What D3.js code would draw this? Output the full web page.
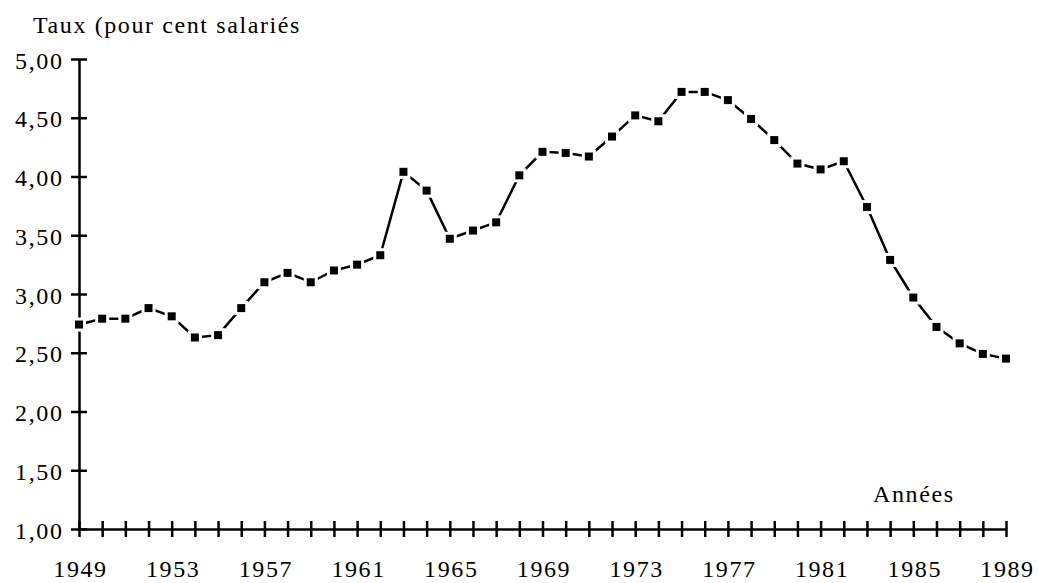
<!DOCTYPE html>
<html>
<head>
<meta charset="utf-8">
<script src="https://cdn.jsdelivr.net/npm/d3@7"></script>
<style>
  body { margin: 0; background: #fff; }
  svg text { font-family: "Liberation Serif", "Times New Roman", serif; font-size: 24px; letter-spacing: 1.6px; fill: #000; }
</style>
</head>
<body>
<svg id="chart" width="1039" height="583"></svg>
<script>
// Taux (pour cent salariés), 1949-1989

const YEARS = d3.range(1949, 1990);
const RATES = [
  2.74, 2.79, 2.79, 2.88, 2.81, 2.63, 2.65, 2.88, 3.10, 3.18,
  3.10, 3.20, 3.25, 3.33, 4.04, 3.88, 3.47, 3.54, 3.61, 4.01,
  4.21, 4.20, 4.17, 4.34, 4.52, 4.47, 4.72, 4.72, 4.65, 4.49,
  4.31, 4.11, 4.06, 4.13, 3.74, 3.29, 2.97, 2.72, 2.58, 2.49,
  2.45
];
const Y_TICKS = [1, 1.5, 2, 2.5, 3, 3.5, 4, 4.5, 5];
const X_LABEL_YEARS = [1949, 1953, 1957, 1961, 1965, 1969, 1973, 1977, 1981, 1985, 1989];

const data = YEARS.map((y, i) => ({ year: y, rate: RATES[i] }));

const svg = d3.select("#chart");
const plot = { left: 79, right: 1006, top: 59, bottom: 529 };

const x = d3.scaleLinear().domain([1949, 1989]).range([plot.left, plot.right]);
const y = d3.scaleLinear().domain([1, 5]).range([plot.bottom, plot.top]);

const fr = d3.formatLocale({ decimal: ",", thousands: " ", grouping: [3], currency: ["", " €"] });
const fmt = fr.format(".2f");

// ── Axes ──────────────────────────────────────────────────────
const yAxis = svg.append("g")
  .attr("transform", `translate(${plot.left},0)`)
  .call(d3.axisLeft(y).tickValues(Y_TICKS).tickFormat(fmt).tickSizeOuter(0));

yAxis.select(".domain").attr("stroke", "#000").attr("stroke-width", 2.5);
yAxis.selectAll(".tick line")
  .attr("x1", -8).attr("x2", 8)
  .attr("stroke", "#000").attr("stroke-width", 2.5);
yAxis.selectAll(".tick text")
  .attr("x", -15.5).attr("dy", null).attr("y", 9);
yAxis.attr("font-size", null).attr("font-family", null);

const xAxis = svg.append("g")
  .attr("transform", `translate(0,${plot.bottom})`)
  .call(d3.axisBottom(x).tickValues(YEARS)
    .tickFormat(d => X_LABEL_YEARS.includes(d) ? String(d) : "")
    .tickSizeOuter(0));

xAxis.select(".domain").attr("stroke", "#000").attr("stroke-width", 2.5);
xAxis.selectAll(".tick line")
  .attr("y1", -8).attr("y2", 8)
  .attr("stroke", "#000").attr("stroke-width", 2.5);
// drop the empty label nodes, keep every fourth year
xAxis.selectAll(".tick text").filter(d => !X_LABEL_YEARS.includes(d)).remove();
xAxis.selectAll(".tick text")
  .attr("y", 48).attr("dy", null).attr("dx", 1);
xAxis.attr("font-size", null).attr("font-family", null);

// ── Titles ────────────────────────────────────────────────────
svg.append("text").attr("x", 33).attr("y", 33).text("Taux (pour cent salariés");
svg.append("text").attr("x", 873).attr("y", 502).text("Années");

// ── Line + markers ────────────────────────────────────────────
const line = d3.line().x(d => x(d.year)).y(d => y(d.rate));

svg.append("path")
  .datum(data)
  .attr("d", line)
  .attr("fill", "none")
  .attr("stroke", "#000")
  .attr("stroke-width", 2.5);

svg.selectAll(".halo").data(data).join("rect")
  .attr("class", "halo")
  .attr("x", d => x(d.year) - 7).attr("y", d => y(d.rate) - 7)
  .attr("width", 14).attr("height", 14)
  .attr("fill", "#fff");

svg.selectAll(".mark").data(data).join("rect")
  .attr("class", "mark")
  .attr("x", d => x(d.year) - 4).attr("y", d => y(d.rate) - 4)
  .attr("width", 8).attr("height", 8)
  .attr("fill", "#000");
</script>
</body>
</html>
